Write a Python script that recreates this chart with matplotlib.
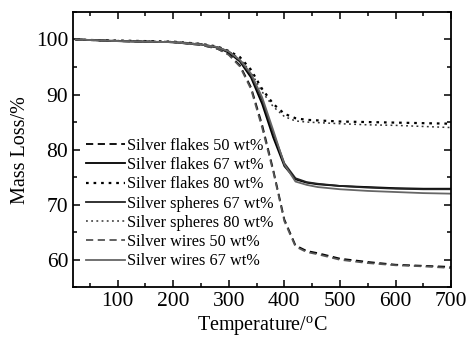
import numpy as np
import matplotlib
matplotlib.use('Agg')
import matplotlib.pyplot as plt
from matplotlib.ticker import MultipleLocator

plt.rcParams['font.family'] = ['Liberation Serif', 'DejaVu Serif']
plt.rcParams['mathtext.fontset'] = 'custom'
plt.rcParams['mathtext.rm'] = 'Liberation Serif'

# temperature grid (degC)
temp = [25, 50, 100, 150, 200, 250, 280, 300, 320, 340, 360, 380, 400, 420,
        440, 460, 500, 550, 600, 650, 700]

flakes_50 = [100.0, 99.9, 99.7, 99.6, 99.5, 99.0, 98.3, 97.3, 95.3, 91.3, 84.5,
             76.3, 67.3, 62.6, 61.6, 61.2, 60.2, 59.6, 59.1, 58.9, 58.7]
flakes_67 = [100.0, 99.9, 99.7, 99.6, 99.5, 99.1, 98.5, 97.6, 96.0, 93.1, 88.3,
             82.2, 77.0, 74.6, 74.0, 73.7, 73.4, 73.2, 73.0, 72.9, 72.9]
flakes_80 = [100.0, 99.9, 99.8, 99.7, 99.6, 99.2, 98.7, 97.9, 96.8, 94.5, 91.0,
             88.3, 86.5, 85.7, 85.4, 85.3, 85.1, 85.0, 84.9, 84.8, 84.7]
spheres_67 = [100.0, 99.9, 99.7, 99.6, 99.5, 99.1, 98.6, 97.8, 96.2, 93.5, 89.0,
              83.0, 77.5, 74.8, 74.1, 73.8, 73.4, 73.1, 72.9, 72.8, 72.8]
spheres_80 = [100.0, 99.9, 99.8, 99.7, 99.6, 99.2, 98.6, 97.8, 96.5, 94.0, 90.5,
              87.8, 86.0, 85.2, 85.0, 84.9, 84.7, 84.5, 84.4, 84.2, 84.0]
wires_50 = [100.0, 99.9, 99.7, 99.6, 99.5, 99.0, 98.3, 97.2, 95.1, 91.0, 84.0,
            76.0, 67.0, 62.4, 61.4, 61.0, 60.0, 59.4, 59.0, 58.8, 58.5]
wires_67 = [100.0, 99.9, 99.7, 99.6, 99.5, 99.1, 98.6, 97.8, 96.3, 93.8, 89.5,
            83.5, 77.3, 74.2, 73.6, 73.2, 72.8, 72.5, 72.3, 72.1, 72.0]

labels = ['Silver flakes 50 wt%', 'Silver flakes 67 wt%', 'Silver flakes 80 wt%',
          'Silver spheres 67 wt%', 'Silver spheres 80 wt%', 'Silver wires 50 wt%',
          'Silver wires 67 wt%']
series = [flakes_50, flakes_67, flakes_80, spheres_67, spheres_80, wires_50, wires_67]

dash = (0, (4, 2.5))
dot = (0, (1.2, 2.2))
styles = [('black', dash, 1.3), ('black', '-', 1.3), ('black', dot, 1.6),
          ('#222222', '-', 1.3), ('#333333', dot, 1.1), ('#555555', dash, 1.3),
          ('#666666', '-', 1.3)]

fig, ax = plt.subplots(figsize=(4.71, 3.40), dpi=100)
fig.subplots_adjust(left=0.155, right=0.958, top=0.965, bottom=0.155)

for y, lab, (c, ls, lw) in zip(series, labels, styles):
    ax.plot(temp, y, color=c, linestyle=ls, linewidth=lw, label=lab)

ax.set_xlim(20, 700)
ax.set_ylim(55, 105)
ax.xaxis.set_major_locator(MultipleLocator(100))
ax.xaxis.set_minor_locator(MultipleLocator(50))
ax.yaxis.set_major_locator(MultipleLocator(10))
ax.yaxis.set_minor_locator(MultipleLocator(5))
ax.tick_params(which='both', direction='in', top=True, right=True, width=1.1)
ax.tick_params(which='major', length=5, labelsize=15.5)
ax.tick_params(which='minor', length=3)
for s in ax.spines.values():
    s.set_linewidth(1.3)

ax.set_xlabel('Temperature/$^{\\rm o}$C', fontsize=14.5, labelpad=2)
ax.set_ylabel('Mass Loss/%', fontsize=14.5, labelpad=4)

ax.legend(loc='lower left', bbox_to_anchor=(0.035, 0.065), frameon=False,
          fontsize=11.7, handlelength=2.4, handletextpad=0.1,
          labelspacing=0.2, borderpad=0, borderaxespad=0)

fig.savefig('out.png', dpi=100)
